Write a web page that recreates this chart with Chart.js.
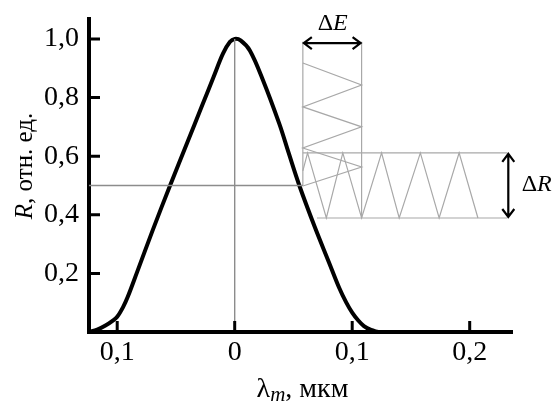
<!DOCTYPE html>
<html>
<head>
<meta charset="utf-8">
<script src="https://cdn.jsdelivr.net/npm/chart.js@4.4.0/dist/chart.umd.min.js"></script>
<style>
  body { margin: 0; background: #fff; }
  #wrap { width: 557px; height: 403px; }
</style>
</head>
<body>
<div id="wrap"><canvas id="chart" width="557" height="403"></canvas></div>
<script>
// Reflectance curve R(λm)
const curveX = [-0.124, -0.117, -0.11, -0.104, -0.1, -0.095, -0.091, -0.083, -0.07, -0.055, -0.04, -0.028, -0.018, -0.01, -0.004, 0,
    0.005, 0.013, 0.024, 0.038, 0.046, 0.055, 0.068, 0.08, 0.089, 0.095, 0.1, 0.105, 0.11, 0.116, 0.122];
const curveR = [0, 0.008, 0.022, 0.038, 0.052, 0.085, 0.12, 0.205, 0.345, 0.5, 0.65, 0.77, 0.87, 0.95, 0.99, 1.0,
    0.995, 0.96, 0.86, 0.71, 0.61, 0.5, 0.36, 0.24, 0.15, 0.1, 0.066, 0.04, 0.02, 0.007, 0];

// axis ticks
const xTicks = [-0.1, 0, 0.1, 0.2];
const xTickLabels = ['0,1', '0', '0,1', '0,2'];
const yTicks = [0.2, 0.4, 0.6, 0.8, 1.0];
const yTickLabels = ['0,2', '0,4', '0,6', '0,8', '1,0'];

// reference level and the ΔE / ΔR bands
const refLevel = 0.5;
const bandE = [0.058, 0.108];
const bandR = [0.389, 0.611];
const bandTop = 0.99;
const bandRight = 0.232;
const bandBottomStart = 0.070;

// zigzag inside ΔE band (vertical)
const zigEx = [0.058, 0.108, 0.058, 0.108, 0.058, 0.108, 0.058];
const zigEy = [0.918, 0.843, 0.768, 0.700, 0.628, 0.563, 0.498];
// zigzag inside ΔR band (horizontal)
const zigRx = [0.058, 0.062, 0.078, 0.092, 0.108, 0.125, 0.140, 0.158, 0.174, 0.191, 0.207];
const zigRy = [0.55, 0.611, 0.389, 0.611, 0.389, 0.611, 0.389, 0.611, 0.389, 0.611, 0.389];

const xMin = -0.124, xMax = 0.236, yMin = 0, yMax = 1.068;

const toPts = (xs, ys) => xs.map((x, i) => ({ x: x, y: ys[i] }));
const gray = '#a8a8a8';
const refGray = '#8c8c8c';
const serif = '"Liberation Serif", "Times New Roman", serif';

function seg(data, color, width) {
    return {
        data: data,
        showLine: true,
        borderColor: color,
        borderWidth: width,
        pointRadius: 0,
        fill: false
    };
}

// draws text made of several styled parts, centred on x
function drawParts(ctx, parts, x, y) {
    let total = 0;
    parts.forEach(p => { ctx.font = p.font; p.w = ctx.measureText(p.t).width; total += p.w; });
    let cx = x - total / 2;
    parts.forEach(p => {
        ctx.font = p.font;
        ctx.fillText(p.t, cx, y + (p.dy || 0));
        cx += p.w;
    });
}

function drawArrow(ctx, x1, y1, x2, y2) {
    const head = 8, half = 6;
    const a = Math.atan2(y2 - y1, x2 - x1);
    ctx.beginPath();
    ctx.moveTo(x1, y1);
    ctx.lineTo(x2, y2);
    [[x2, y2, a], [x1, y1, a + Math.PI]].forEach(([px, py, ang]) => {
        const c = Math.cos(ang), s = Math.sin(ang);
        ctx.moveTo(px - head * c - half * s, py - head * s + half * c);
        ctx.lineTo(px, py);
        ctx.lineTo(px - head * c + half * s, py - head * s - half * c);
    });
    ctx.stroke();
}

const decorPlugin = {
    id: 'decor',
    afterDraw(chart) {
        const ctx = chart.ctx;
        const xs = chart.scales.x, ys = chart.scales.y;
        const area = chart.chartArea;
        ctx.save();
        ctx.strokeStyle = '#000';
        ctx.fillStyle = '#000';

        // inward tick marks
        ctx.lineWidth = 3;
        ctx.beginPath();
        xTicks.forEach(v => {
            const px = xs.getPixelForValue(v);
            ctx.moveTo(px, area.bottom);
            ctx.lineTo(px, area.bottom - 11);
        });
        yTicks.forEach(v => {
            const py = ys.getPixelForValue(v);
            ctx.moveTo(area.left, py);
            ctx.lineTo(area.left + 11, py);
        });
        ctx.stroke();

        // ΔE and ΔR arrows
        ctx.lineWidth = 2.2;
        const ay = ys.getPixelForValue(bandTop - 0.004);
        drawArrow(ctx, xs.getPixelForValue(bandE[0]) + 1, ay, xs.getPixelForValue(bandE[1]) - 1, ay);
        const ax = xs.getPixelForValue(bandRight) + 1;
        drawArrow(ctx, ax, ys.getPixelForValue(bandR[1]) + 1, ax, ys.getPixelForValue(bandR[0]) - 1);

        ctx.textBaseline = 'alphabetic';
        drawParts(ctx, [
            { t: 'Δ', font: '24px ' + serif },
            { t: 'E', font: 'italic 24px ' + serif }
        ], xs.getPixelForValue(0.0834), ys.getPixelForValue(1.03));
        drawParts(ctx, [
            { t: 'Δ', font: '24px ' + serif },
            { t: 'R', font: 'italic 24px ' + serif }
        ], xs.getPixelForValue(0.257), ys.getPixelForValue(0.482));

        // x axis title: λm, мкм
        drawParts(ctx, [
            { t: 'λ', font: '28px ' + serif },
            { t: 'm', font: 'italic 21px ' + serif, dy: 4 },
            { t: ', мкм', font: '28px ' + serif }
        ], (area.left + area.right) / 2 + 2, 397);

        // y axis title: R, отн. ед.
        ctx.translate(32, 166);
        ctx.rotate(-Math.PI / 2);
        drawParts(ctx, [
            { t: 'R', font: 'italic 25px ' + serif },
            { t: ', отн. ед.', font: '25px ' + serif }
        ], 0, 0);
        ctx.restore();
    }
};

new Chart(document.getElementById('chart'), {
    type: 'scatter',
    data: {
        datasets: [
            seg(toPts([0, 0], [0, 1.0]), refGray, 1.4),
            seg(toPts([xMin, bandE[0]], [refLevel, refLevel]), refGray, 1.4),
            seg(toPts([bandE[0], bandE[0]], [bandTop, refLevel]), gray, 1.2),
            seg(toPts([bandE[1], bandE[1]], [bandTop, bandR[0]]), gray, 1.2),
            seg(toPts([bandE[0], bandRight], [bandR[1], bandR[1]]), gray, 1.2),
            seg(toPts([bandBottomStart, bandRight], [bandR[0], bandR[0]]), gray, 1.2),
            seg(toPts(zigEx, zigEy), gray, 1.2),
            seg(toPts(zigRx, zigRy), gray, 1.2),
            {
                data: toPts(curveX, curveR),
                showLine: true,
                borderColor: '#000',
                borderWidth: 4,
                pointRadius: 0,
                tension: 0.35,
                fill: false
            }
        ]
    },
    options: {
        responsive: false,
        animation: false,
        layout: { padding: { top: 19, right: 45, left: 0, bottom: 0 } },
        plugins: {
            legend: { display: false },
            tooltip: { enabled: false }
        },
        scales: {
            x: {
                type: 'linear',
                min: xMin,
                max: xMax,
                afterBuildTicks: s => { s.ticks = xTicks.map(v => ({ value: v })); },
                afterFit: s => { s.height = 71; s.paddingLeft = 0; s.paddingRight = 0; },
                grid: { display: false, drawTicks: false },
                border: { display: true, color: '#000', width: 4 },
                ticks: {
                    color: '#000',
                    padding: 4,
                    maxRotation: 0,
                    font: { family: serif, size: 28 },
                    callback: (v, i) => xTickLabels[i]
                }
            },
            y: {
                type: 'linear',
                min: yMin,
                max: yMax,
                afterBuildTicks: s => { s.ticks = yTicks.map(v => ({ value: v })); },
                afterFit: s => { s.width = 89; s.paddingTop = 0; s.paddingBottom = 0; },
                grid: { display: false, drawTicks: false },
                border: { display: true, color: '#000', width: 4 },
                ticks: {
                    color: '#000',
                    padding: 10,
                    font: { family: serif, size: 28 },
                    callback: (v, i) => yTickLabels[i]
                }
            }
        }
    },
    plugins: [decorPlugin]
});
</script>
</body>
</html>
